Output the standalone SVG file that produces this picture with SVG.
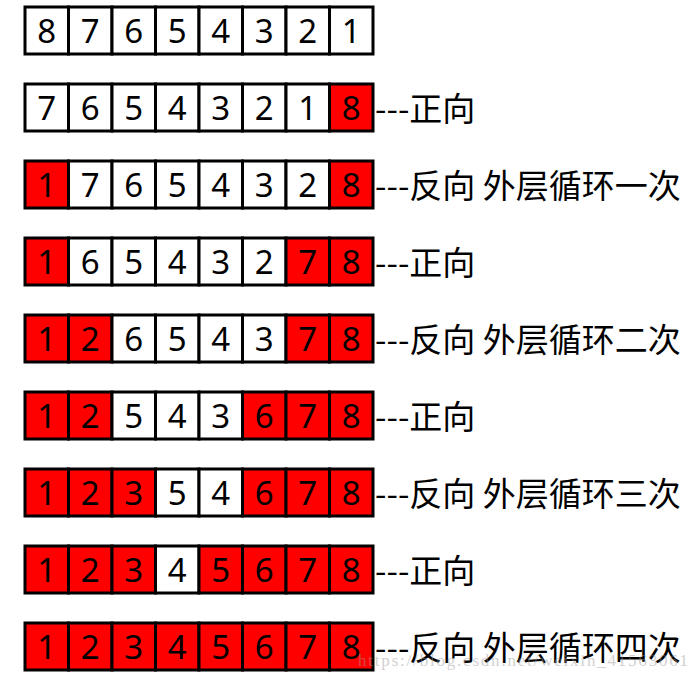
<svg xmlns="http://www.w3.org/2000/svg" width="698" height="680" viewBox="0 0 698 680">
<style>
.w{fill:#ffffff;stroke:#000;stroke-width:3}
.r{fill:#ff0000;stroke:#000;stroke-width:3}
.d{font-family:"Noto Sans","Open Sans","Liberation Sans",sans-serif;font-size:33px;fill:#000;text-anchor:middle}
.l{font-family:"Noto Sans CJK SC","Noto Sans",sans-serif;font-size:33px;fill:#000}
.wm{font-family:"Liberation Serif",serif;font-size:17px;fill:#999;opacity:0.45}
</style>
<rect width="698" height="680" fill="#fff"/>
<g id="row1" transform="translate(0,7)">
<rect class="w" x="25" y="0" width="43.5" height="47"/><rect class="w" x="68.5" y="0" width="43.5" height="47"/><rect class="w" x="112" y="0" width="43.5" height="47"/><rect class="w" x="155.5" y="0" width="43.5" height="47"/><rect class="w" x="199" y="0" width="43.5" height="47"/><rect class="w" x="242.5" y="0" width="43.5" height="47"/><rect class="w" x="286" y="0" width="43.5" height="47"/><rect class="w" x="329.5" y="0" width="43.5" height="47"/>
<text class="d" y="36"><tspan x="46.75">8</tspan><tspan x="90.25">7</tspan><tspan x="133.75">6</tspan><tspan x="177.25">5</tspan><tspan x="220.75">4</tspan><tspan x="264.25">3</tspan><tspan x="307.75">2</tspan><tspan x="351.25">1</tspan></text>
</g>
<g id="row2" transform="translate(0,84)">
<rect class="w" x="25" y="0" width="43.5" height="47"/><rect class="w" x="68.5" y="0" width="43.5" height="47"/><rect class="w" x="112" y="0" width="43.5" height="47"/><rect class="w" x="155.5" y="0" width="43.5" height="47"/><rect class="w" x="199" y="0" width="43.5" height="47"/><rect class="w" x="242.5" y="0" width="43.5" height="47"/><rect class="w" x="286" y="0" width="43.5" height="47"/><rect class="r" x="329.5" y="0" width="43.5" height="47"/>
<text class="d" y="36"><tspan x="46.75">7</tspan><tspan x="90.25">6</tspan><tspan x="133.75">5</tspan><tspan x="177.25">4</tspan><tspan x="220.75">3</tspan><tspan x="264.25">2</tspan><tspan x="307.75">1</tspan><tspan x="351.25">8</tspan></text>
<text class="l" x="375" y="37">---正向</text>
</g>
<g id="row3" transform="translate(0,161)">
<rect class="r" x="25" y="0" width="43.5" height="47"/><rect class="w" x="68.5" y="0" width="43.5" height="47"/><rect class="w" x="112" y="0" width="43.5" height="47"/><rect class="w" x="155.5" y="0" width="43.5" height="47"/><rect class="w" x="199" y="0" width="43.5" height="47"/><rect class="w" x="242.5" y="0" width="43.5" height="47"/><rect class="w" x="286" y="0" width="43.5" height="47"/><rect class="r" x="329.5" y="0" width="43.5" height="47"/>
<text class="d" y="36"><tspan x="46.75">1</tspan><tspan x="90.25">7</tspan><tspan x="133.75">6</tspan><tspan x="177.25">5</tspan><tspan x="220.75">4</tspan><tspan x="264.25">3</tspan><tspan x="307.75">2</tspan><tspan x="351.25">8</tspan></text>
<text class="l" x="375" y="37">---反向 外层循环一次</text>
</g>
<g id="row4" transform="translate(0,238)">
<rect class="r" x="25" y="0" width="43.5" height="47"/><rect class="w" x="68.5" y="0" width="43.5" height="47"/><rect class="w" x="112" y="0" width="43.5" height="47"/><rect class="w" x="155.5" y="0" width="43.5" height="47"/><rect class="w" x="199" y="0" width="43.5" height="47"/><rect class="w" x="242.5" y="0" width="43.5" height="47"/><rect class="r" x="286" y="0" width="43.5" height="47"/><rect class="r" x="329.5" y="0" width="43.5" height="47"/>
<text class="d" y="36"><tspan x="46.75">1</tspan><tspan x="90.25">6</tspan><tspan x="133.75">5</tspan><tspan x="177.25">4</tspan><tspan x="220.75">3</tspan><tspan x="264.25">2</tspan><tspan x="307.75">7</tspan><tspan x="351.25">8</tspan></text>
<text class="l" x="375" y="37">---正向</text>
</g>
<g id="row5" transform="translate(0,315)">
<rect class="r" x="25" y="0" width="43.5" height="47"/><rect class="r" x="68.5" y="0" width="43.5" height="47"/><rect class="w" x="112" y="0" width="43.5" height="47"/><rect class="w" x="155.5" y="0" width="43.5" height="47"/><rect class="w" x="199" y="0" width="43.5" height="47"/><rect class="w" x="242.5" y="0" width="43.5" height="47"/><rect class="r" x="286" y="0" width="43.5" height="47"/><rect class="r" x="329.5" y="0" width="43.5" height="47"/>
<text class="d" y="36"><tspan x="46.75">1</tspan><tspan x="90.25">2</tspan><tspan x="133.75">6</tspan><tspan x="177.25">5</tspan><tspan x="220.75">4</tspan><tspan x="264.25">3</tspan><tspan x="307.75">7</tspan><tspan x="351.25">8</tspan></text>
<text class="l" x="375" y="37">---反向 外层循环二次</text>
</g>
<g id="row6" transform="translate(0,392)">
<rect class="r" x="25" y="0" width="43.5" height="47"/><rect class="r" x="68.5" y="0" width="43.5" height="47"/><rect class="w" x="112" y="0" width="43.5" height="47"/><rect class="w" x="155.5" y="0" width="43.5" height="47"/><rect class="w" x="199" y="0" width="43.5" height="47"/><rect class="r" x="242.5" y="0" width="43.5" height="47"/><rect class="r" x="286" y="0" width="43.5" height="47"/><rect class="r" x="329.5" y="0" width="43.5" height="47"/>
<text class="d" y="36"><tspan x="46.75">1</tspan><tspan x="90.25">2</tspan><tspan x="133.75">5</tspan><tspan x="177.25">4</tspan><tspan x="220.75">3</tspan><tspan x="264.25">6</tspan><tspan x="307.75">7</tspan><tspan x="351.25">8</tspan></text>
<text class="l" x="375" y="37">---正向</text>
</g>
<g id="row7" transform="translate(0,469)">
<rect class="r" x="25" y="0" width="43.5" height="47"/><rect class="r" x="68.5" y="0" width="43.5" height="47"/><rect class="r" x="112" y="0" width="43.5" height="47"/><rect class="w" x="155.5" y="0" width="43.5" height="47"/><rect class="w" x="199" y="0" width="43.5" height="47"/><rect class="r" x="242.5" y="0" width="43.5" height="47"/><rect class="r" x="286" y="0" width="43.5" height="47"/><rect class="r" x="329.5" y="0" width="43.5" height="47"/>
<text class="d" y="36"><tspan x="46.75">1</tspan><tspan x="90.25">2</tspan><tspan x="133.75">3</tspan><tspan x="177.25">5</tspan><tspan x="220.75">4</tspan><tspan x="264.25">6</tspan><tspan x="307.75">7</tspan><tspan x="351.25">8</tspan></text>
<text class="l" x="375" y="37">---反向 外层循环三次</text>
</g>
<g id="row8" transform="translate(0,546)">
<rect class="r" x="25" y="0" width="43.5" height="47"/><rect class="r" x="68.5" y="0" width="43.5" height="47"/><rect class="r" x="112" y="0" width="43.5" height="47"/><rect class="w" x="155.5" y="0" width="43.5" height="47"/><rect class="r" x="199" y="0" width="43.5" height="47"/><rect class="r" x="242.5" y="0" width="43.5" height="47"/><rect class="r" x="286" y="0" width="43.5" height="47"/><rect class="r" x="329.5" y="0" width="43.5" height="47"/>
<text class="d" y="36"><tspan x="46.75">1</tspan><tspan x="90.25">2</tspan><tspan x="133.75">3</tspan><tspan x="177.25">4</tspan><tspan x="220.75">5</tspan><tspan x="264.25">6</tspan><tspan x="307.75">7</tspan><tspan x="351.25">8</tspan></text>
<text class="l" x="375" y="37">---正向</text>
</g>
<g id="row9" transform="translate(0,623)">
<rect class="r" x="25" y="0" width="43.5" height="47"/><rect class="r" x="68.5" y="0" width="43.5" height="47"/><rect class="r" x="112" y="0" width="43.5" height="47"/><rect class="r" x="155.5" y="0" width="43.5" height="47"/><rect class="r" x="199" y="0" width="43.5" height="47"/><rect class="r" x="242.5" y="0" width="43.5" height="47"/><rect class="r" x="286" y="0" width="43.5" height="47"/><rect class="r" x="329.5" y="0" width="43.5" height="47"/>
<text class="d" y="36"><tspan x="46.75">1</tspan><tspan x="90.25">2</tspan><tspan x="133.75">3</tspan><tspan x="177.25">4</tspan><tspan x="220.75">5</tspan><tspan x="264.25">6</tspan><tspan x="307.75">7</tspan><tspan x="351.25">8</tspan></text>
<text class="l" x="375" y="37">---反向 外层循环四次</text>
</g>
<g id="watermark">
<text class="wm" x="358" y="666" textLength="330">https://blog.csdn.net/weixin_41563061</text>
</g>
</svg>
